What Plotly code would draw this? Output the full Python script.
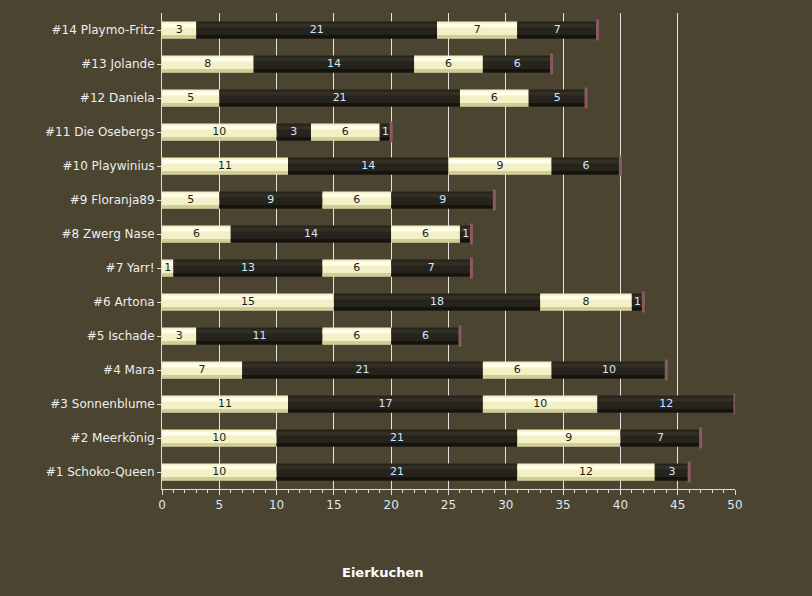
import plotly.graph_objects as go

# Teilnehmer von unten (#1) nach oben (#14)
teilnehmer = ['#1 Schoko-Queen', '#2 Meerkönig', '#3 Sonnenblume', '#4 Mara',
              '#5 Ischade', '#6 Artona', '#7 Yarr!', '#8 Zwerg Nase',
              '#9 Floranja89', '#10 Playwinius', '#11 Die Osebergs',
              '#12 Daniela', '#13 Jolande', '#14 Playmo-Fritz']

runde1 = [10, 10, 11, 7, 3, 15, 1, 6, 5, 11, 10, 5, 8, 3]
runde2 = [21, 21, 17, 21, 11, 18, 13, 14, 9, 14, 3, 21, 14, 21]
runde3 = [12, 9, 10, 6, 6, 8, 6, 6, 6, 9, 6, 6, 6, 7]
runde4 = [3, 7, 12, 10, 6, 1, 7, 1, 9, 6, 1, 5, 6, 7]

runden = [runde1, runde2, runde3, runde4]

creme = '#f3f0c6'
dunkel = '#25231b'

fig = go.Figure()

basis = [0] * len(teilnehmer)
beschriftungen = []
for i, werte in enumerate(runden):
    hell = i % 2 == 0
    farbe = creme if hell else dunkel
    # Grundkörper
    fig.add_trace(go.Bar(
        y=teilnehmer, x=werte, base=basis, orientation='h',
        marker=dict(color=farbe, line=dict(width=0)),
        width=0.5, offset=-0.25,
        hoverinfo='skip', showlegend=False,
    ))
    # Schatten unten
    fig.add_trace(go.Bar(
        y=teilnehmer, x=werte, base=basis, orientation='h',
        marker=dict(color='#d2cc96' if hell else '#14130d', line=dict(width=0)),
        width=0.1, offset=-0.25,
        hoverinfo='skip', showlegend=False,
    ))
    # Glanzlicht oben
    fig.add_trace(go.Bar(
        y=teilnehmer, x=werte, base=basis, orientation='h',
        marker=dict(color='#fffdec' if hell else '#322f25', line=dict(width=0)),
        width=0.12, offset=0.07,
        hoverinfo='skip', showlegend=False,
    ))
    mitte = [b + w / 2 for b, w in zip(basis, werte)]
    beschriftungen.append((mitte, werte, '#1c1c1c' if hell else '#d2e6ff'))
    basis = [b + w for b, w in zip(basis, werte)]

# Endkappen
fig.add_trace(go.Scatter(
    y=teilnehmer, x=basis, mode='markers',
    marker=dict(symbol='line-ns', size=15, line=dict(color='#8a5a62', width=3)),
    hoverinfo='skip', showlegend=False,
))

for mitte, werte, farbe in beschriftungen:
    fig.add_trace(go.Scatter(
        y=teilnehmer, x=mitte, mode='text',
        text=[str(w) for w in werte], textposition='middle center',
        textfont=dict(color=farbe, size=11, family='Verdana, DejaVu Sans'),
        hoverinfo='skip', showlegend=False, cliponaxis=False,
    ))

fig.update_layout(
    barmode='overlay',
    width=812, height=596,
    margin=dict(l=162, r=77, t=13, b=107),
    paper_bgcolor='#4a4430',
    plot_bgcolor='#4a4430',
    font=dict(family='Verdana, DejaVu Sans', size=12, color='#eeeeee'),
)

fig.update_xaxes(
    range=[0, 50], dtick=5, showgrid=True, gridcolor='rgba(255,255,255,0.85)',
    gridwidth=1, zeroline=False, showline=True, linecolor='#dddddd',
    ticks='outside', ticklen=5, tickcolor='#dddddd',
    minor=dict(dtick=1, ticks='outside', ticklen=3, tickcolor='#dddddd'),
    tickfont=dict(color='#dfe8f2', size=12),
)

fig.update_yaxes(
    categoryorder='array', categoryarray=teilnehmer,
    range=[-0.5, len(teilnehmer) - 0.5],
    showgrid=False, showline=True, linecolor='#dddddd',
    ticks='outside', ticklen=4, tickcolor='#dddddd',
    tickfont=dict(color='#eeeeee', size=12),
)

fig.add_annotation(
    text='<b>Eierkuchen</b>', xref='paper', yref='paper',
    x=0.386, y=-0.155, yanchor='top', showarrow=False,
    font=dict(color='#ffffff', size=13),
)

fig.write_html('out.html', config={'displayModeBar': False},
               post_script="document.body.style.margin='0';")
